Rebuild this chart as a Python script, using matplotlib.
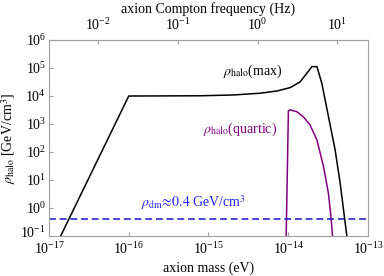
import matplotlib
matplotlib.use("Agg")
import matplotlib.pyplot as plt
from matplotlib.transforms import ScaledTranslation

matplotlib.rc('font', family='Liberation Serif', size=10)
matplotlib.rc('mathtext', fontset='stix')

EV_TO_HZ = 2.418e14   # Compton frequency per eV of mass
AX_GRAY = "#a0a0a0"

# rho_halo(max) curve
m_max = [1.40e-17, 1.0e-16, 7.85e-16, 2.05e-15, 4.44e-15, 7.2e-15, 1.06e-14,
         1.41e-14, 1.71e-14, 1.98e-14, 2.29e-14, 2.64e-14, 3.2e-14, 3.87e-14,
         4.48e-14, 5.43e-14]
rho_max = [0.1, 1.0e4, 1.02e4, 1.09e4, 1.26e4, 1.51e4, 2.0e4,
           3.2e4, 6.5e4, 1.12e5, 1.12e5, 2.8e4, 1.8e3, 1.2e2,
           7.6, 0.1]

# rho_halo(quartic) curve
m_quart = [9.42e-15, 1.005e-14, 1.06e-14, 1.28e-14, 1.55e-14, 1.88e-14,
           2.29e-14, 2.77e-14, 3.19e-14, 3.45e-14, 3.59e-14]
rho_quart = [0.1, 3.0e3, 3.2e3, 2.75e3, 1.8e3, 9.1e2,
             2.7e2, 30, 3.35, 0.43, 0.1]

rho_dm = 0.4

x_ticks = [1e-17, 1e-16, 1e-15, 1e-14, 1e-13]
y_ticks = [1e-1, 1e0, 1e1, 1e2, 1e3, 1e4, 1e5, 1e6]
f_ticks = [1e-2, 1e-1, 1e0, 1e1]

fig = plt.figure(figsize=(3.84, 2.76), dpi=100)
ax = fig.add_axes([0.1276, 0.1449, 0.8307, 0.7101])

ax.plot(m_max, rho_max, color='black', lw=1.1)
ax.plot(m_quart, rho_quart, color='#800080', lw=1.1)
ax.axhline(rho_dm, color='#1515c8', lw=1.1, ls=(0, (4.5, 2.5)))

ax.set_xscale('log')
ax.set_yscale('log')
ax.set_xlim(1e-17, 1e-13)
ax.set_ylim(1e-1, 1e6)
ax.set_xticks(x_ticks)
ax.set_yticks(y_ticks)
ax.minorticks_off()

ax.text(3.55e-15, 7.6e4, r'$\rho_{\mathrm{halo}}$(max)', ha='center', va='center', fontsize=10)
ax.text(2.5e-15, 6.6e2, r'$\rho_{\mathrm{halo}}$(quartic)', ha='center', va='center',
        fontsize=10, color='#800080')
ax.text(6.5e-16, 1.6, r'$\rho_{\mathrm{dm}}\!\approx\!0.4$ GeV/cm$^3$', ha='center', va='center',
        fontsize=10, color='#2020ff')

ax.set_xlabel('axion mass (eV)', labelpad=3)
ax.set_ylabel(r'$\rho_{\mathrm{halo}}$ [GeV/cm$^3$]', labelpad=2)

for s in ax.spines.values():
    s.set_color(AX_GRAY)
ax.tick_params(axis='x', direction='in', length=3, color=AX_GRAY, pad=4)
ax.tick_params(axis='y', direction='in', length=3, color=AX_GRAY, pad=2)

# lift the bottom y label a touch so it clears 10^-17, as in the original
lbl = ax.get_yticklabels()[0]
lbl.set_transform(lbl.get_transform() + ScaledTranslation(0, 3 / 72, fig.dpi_scale_trans))

sec = ax.secondary_xaxis('top', functions=(lambda m: m * EV_TO_HZ, lambda f: f / EV_TO_HZ))
sec.set_xticks(f_ticks)
sec.minorticks_off()
sec.tick_params(direction='in', length=3, color=AX_GRAY, pad=5)
sec.spines['top'].set_color(AX_GRAY)
sec.set_xlabel('axion Compton frequency (Hz)', labelpad=3)

fig.savefig('out.png', dpi=100)
